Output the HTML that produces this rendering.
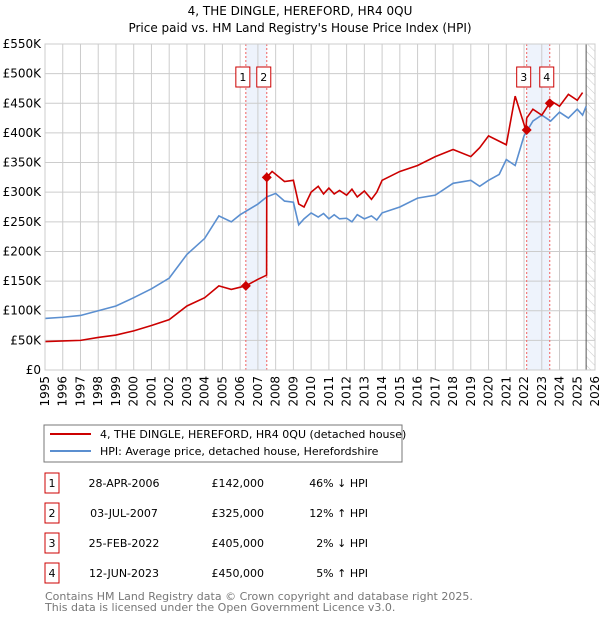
<!DOCTYPE html>
<html><head><meta charset="utf-8"><style>
body{margin:0;background:#fff;font-family:"DejaVu Sans","Liberation Sans",sans-serif;}
svg text{font-family:"DejaVu Sans","Liberation Sans",sans-serif;}
</style></head><body>
<svg id="c" width="600" height="620" xmlns="http://www.w3.org/2000/svg">
<defs><pattern id="hatch" width="6" height="6" patternUnits="userSpaceOnUse" patternTransform="rotate(-45)"><line x1="0" y1="0" x2="0" y2="6" stroke="#ccc" stroke-width="1"/></pattern></defs>
<text x="300" y="15" text-anchor="middle" font-size="12" fill="#000">4, THE DINGLE, HEREFORD, HR4 0QU</text>
<text x="300" y="32" text-anchor="middle" font-size="12" fill="#000">Price paid vs. HM Land Registry's House Price Index (HPI)</text>
<g id="plot"></g>
<rect x="44" y="425" width="358" height="37" fill="#fff" stroke="#777"/>
<line x1="50" y1="434" x2="91" y2="434" stroke="#cc0000" stroke-width="2"/>
<text x="100" y="438" font-size="11">4, THE DINGLE, HEREFORD, HR4 0QU (detached house)</text>
<line x1="50" y1="451" x2="91" y2="451" stroke="#5b8fd0" stroke-width="2"/>
<text x="100" y="455" font-size="11">HPI: Average price, detached house, Herefordshire</text>
<g id="table" font-size="11"></g>
<text x="45" y="600" font-size="11" fill="#777">Contains HM Land Registry data © Crown copyright and database right 2025.</text>
<text x="45" y="611" font-size="11" fill="#777">This data is licensed under the Open Government Licence v3.0.</text>
</svg>
<script>
const yTicks=[0,50,100,150,200,250,300,350,400,450,500,550];
const yTickLabels=["£0","£50K","£100K","£150K","£200K","£250K","£300K","£350K","£400K","£450K","£500K","£550K"];
const xYears=[1995,1996,1997,1998,1999,2000,2001,2002,2003,2004,2005,2006,2007,2008,2009,2010,2011,2012,2013,2014,2015,2016,2017,2018,2019,2020,2021,2022,2023,2024,2025,2026];
const hpiDates=[1995,1996,1997,1998,1999,2000,2001,2002,2003,2004,2004.8,2005.5,2006,2007,2007.5,2008,2008.5,2009,2009.3,2009.6,2010,2010.4,2010.7,2011,2011.3,2011.6,2012,2012.3,2012.6,2013,2013.4,2013.7,2014,2015,2016,2017,2018,2019,2019.5,2020,2020.6,2021,2021.5,2022,2022.5,2023,2023.5,2024,2024.5,2025,2025.3,2025.5];
const hpiValues=[87,89,92,100,108,122,137,155,195,222,260,250,262,280,292,298,285,283,245,255,265,258,264,255,262,255,256,250,262,255,260,253,265,275,290,295,315,320,310,320,330,355,345,395,420,430,420,435,425,440,430,445];
const priceDates=[1995,1996,1997,1998,1999,2000,2001,2002,2003,2004,2004.8,2005.5,2006.32,2007,2007.49,2007.5,2007.8,2008.5,2009,2009.3,2009.6,2010,2010.4,2010.7,2011,2011.3,2011.6,2012,2012.3,2012.6,2013,2013.4,2013.7,2014,2015,2016,2017,2018,2019,2019.5,2020,2021,2021.5,2022.1,2022.15,2022.5,2023,2023.44,2023.45,2024,2024.5,2025,2025.3,2025.5];
const priceValues=[48,49,50,55,59,66,75,85,108,122,142,136,142,153,160,325,335,318,320,280,275,300,310,297,307,297,303,295,305,292,302,288,300,320,335,345,360,372,360,375,395,380,462,405,425,440,430,450,455,445,465,455,468];
const saleDates=[2006.32,2007.5,2022.15,2023.45];
const saleValues=[142,325,405,450];
const saleLabels=["1","2","3","4"];
const tDates=["28-APR-2006","03-JUL-2007","25-FEB-2022","12-JUN-2023"];
const tPrices=["£142,000","£325,000","£405,000","£450,000"];
const tHpi=["46% ↓ HPI","12% ↑ HPI","2% ↓ HPI","5% ↑ HPI"];
const NS="http://www.w3.org/2000/svg";
const X0=45,X1=595,Y0=370,Y1=44;
const xs=d=>X0+(d-1995)/(2026-1995)*(X1-X0);
const ys=v=>Y0-v/550*(Y0-Y1);
const plot=document.getElementById('plot');
function mk(tag,attrs,parent){const e=document.createElementNS(NS,tag);for(const k in attrs)e.setAttribute(k,attrs[k]);(parent||plot).appendChild(e);return e;}
for(let i=0;i<saleDates.length;i+=2){
 const b=mk('rect',{x:xs(saleDates[i]),y:Y1,width:xs(saleDates[i+1])-xs(saleDates[i]),height:Y0-Y1,fill:'#eef3fc'});
 
 
}
const h=mk('rect',{x:xs(2025.5),y:Y1,width:X1-xs(2025.5),height:Y0-Y1,fill:'url(#hatch)'});


yTicks.forEach((v,i)=>{
 const g=mk('line',{x1:X0,x2:X1,y1:ys(v),y2:ys(v),stroke:'#ccc'});
 
 
 const t=mk('text',{x:X0-4,y:ys(v)+4,'text-anchor':'end','font-size':'12'});t.textContent=yTickLabels[i];
 
 
});
xYears.forEach(yr=>{
 const g=mk('line',{x1:xs(yr),x2:xs(yr),y1:Y1,y2:Y0,stroke:'#ccc'});
 
 
 const t=mk('text',{x:0,y:0,'font-size':'12','text-anchor':'end',transform:`translate(${xs(yr)+4},${Y0+6}) rotate(-90)`});t.textContent=yr;
 
 
});
const nl=mk('line',{x1:xs(2025.5),x2:xs(2025.5),y1:Y1,y2:Y0,stroke:'#555'});


saleDates.forEach((d,i)=>{
 const l=mk('line',{x1:xs(d),x2:xs(d),y1:Y1,y2:Y0,stroke:'#f06060','stroke-dasharray':'2,2'});
 
 
});
function line(ds,vs,col,name){
 const p=mk('polyline',{points:ds.map((d,i)=>xs(d)+','+ys(vs[i])).join(' '),fill:'none',stroke:col,'stroke-width':'1.6'});
 
 
}
line(hpiDates,hpiValues,'#5b8fd0','hpi-line');
line(priceDates,priceValues,'#cc0000','price-line');
saleDates.forEach((d,i)=>{
 const x=xs(d),y=ys(saleValues[i]);
 const m=mk('path',{d:`M${x},${y-5}L${x+5},${y}L${x},${y+5}L${x-5},${y}Z`,fill:'#cc0000'});
 
 
 const r=mk('rect',{x:x-10,y:67,width:14,height:20,fill:'#fff',stroke:'#cc0000'});
 
 
 const t=mk('text',{x:x-3,y:81,'text-anchor':'middle','font-size':'11'});t.textContent=saleLabels[i];
 
 
});
const ax=mk('rect',{x:X0,y:Y1,width:X1-X0,height:Y0-Y1,fill:'none',stroke:'#ccc'});


const tb=document.getElementById('table');
saleLabels.forEach((s,i)=>{
 const y=483+i*30;
 const r=mk('rect',{x:45,y:y-10,width:14,height:20,fill:'#fff',stroke:'#cc0000'},tb);
 
 
 const cells=[[52,s,'middle'],[124,tDates[i],'middle'],[264,tPrices[i],'end'],[368,tHpi[i],'end']];
 cells.forEach(c=>{
  const t=mk('text',{x:c[0],y:y+4,'text-anchor':c[2]},tb);t.textContent=c[1];
  
  
 });
});
</script>
</body></html>
